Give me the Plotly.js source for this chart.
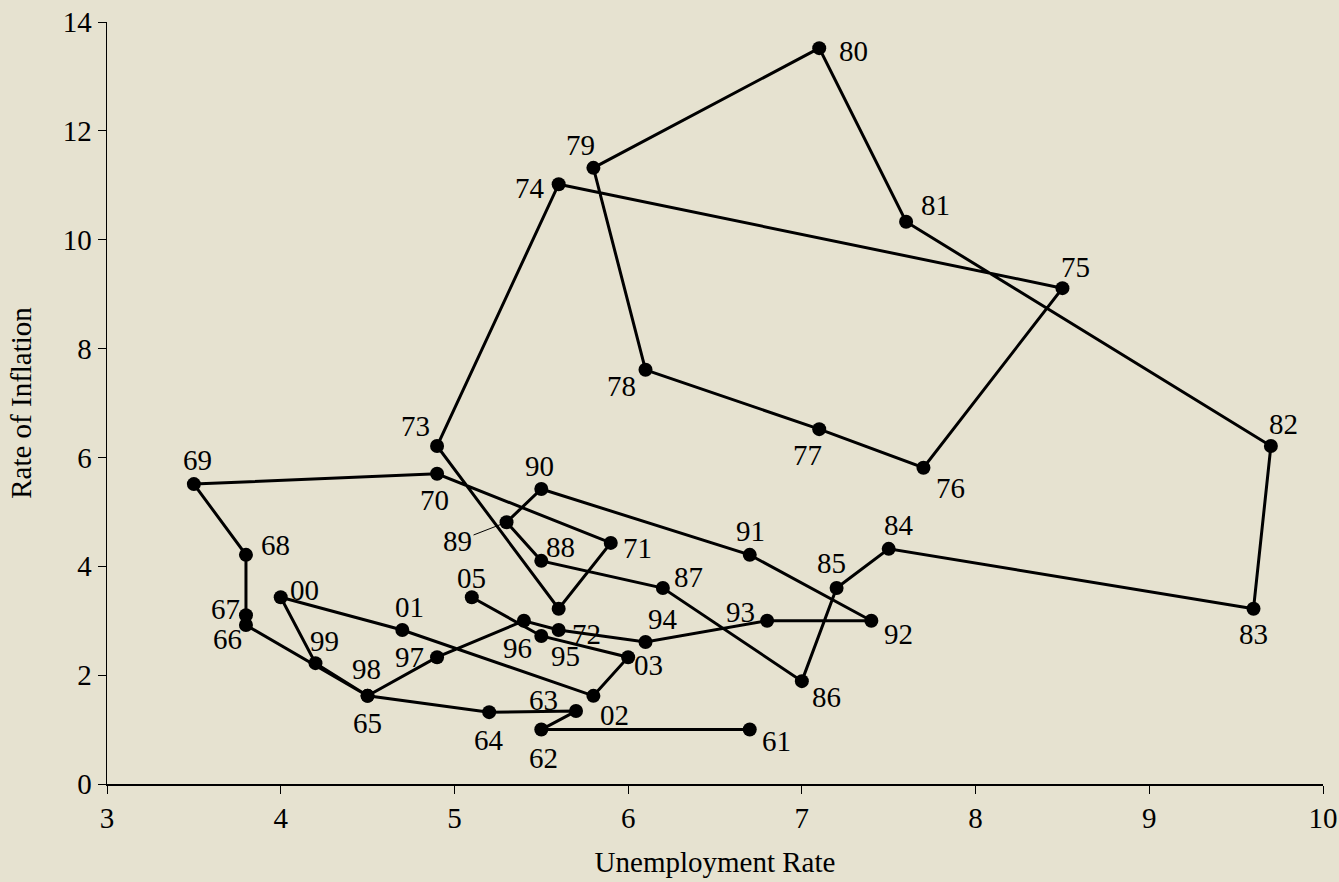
<!DOCTYPE html>
<html><head><meta charset="utf-8">
<script src="https://cdn.plot.ly/plotly-3.0.1.min.js"></script>
<style>body{margin:0;background:#e6e2d0}</style></head>
<body><div id="c" style="width:1339px;height:882px"></div>
<script>
const years=["61","62","63","64","65","66","67","68","69","70","71","72","73","74","75","76","77","78","79","80","81","82","83","84","85","86","87","88","89","90","91","92","93","94","95","96","97","98","99","00","01","02","03","04","05"];
const unemployment=[6.7,5.5,5.7,5.2,4.5,3.8,3.8,3.8,3.5,4.9,5.9,5.6,4.9,5.6,8.5,7.7,7.1,6.1,5.8,7.1,7.6,9.7,9.6,7.5,7.2,7.0,6.2,5.5,5.3,5.5,6.7,7.4,6.8,6.1,5.6,5.4,4.9,4.5,4.2,4.0,4.7,5.8,6.0,5.5,5.1];
const inflation=[1.0,1.0,1.34,1.32,1.62,2.92,3.1,4.21,5.51,5.7,4.43,3.22,6.21,11.02,9.11,5.81,6.52,7.61,11.32,13.52,10.33,6.21,3.22,4.32,3.6,1.89,3.6,4.1,4.81,5.42,4.21,3.0,3.0,2.61,2.83,3.0,2.33,1.62,2.22,3.43,2.83,1.62,2.33,2.72,3.43];
const labelDx=[27,2,-33,0,0,-18,-20,30,4,-3,27,28,-22,-29,13,27,-12,-24,-13,34,29,13,0,10,-5,25,26,19,-49,-2,1,27,-27,17,7,-6,-28,-1,9,24,7,21,20,null,0];
const labelDy=[11,28,-11,28,27,14,-6,-10,-24,26,5,25,-20,4,-21,20,26,16,-23,3,-17,-22,25,-24,-25,16,-11,-14,19,-23,-24,13,-9,-23,26,27,0,-27,-22,-7,-23,19,8,null,-19];
const ann=[];
const F={size:29,color:'#000',family:'Liberation Serif'};
years.forEach((y,i)=>{
  if(labelDx[i]===null) return;
  if(y==="89"){
    ann.push({x:unemployment[i],y:inflation[i],text:y,showarrow:true,arrowhead:0,arrowwidth:1,arrowcolor:'#000',ax:labelDx[i],ay:labelDy[i],standoff:6,font:F});
  } else {
    ann.push({x:unemployment[i],y:inflation[i],text:y,showarrow:false,xshift:labelDx[i],yshift:-labelDy[i],font:F});
  }
});
Plotly.newPlot('c',[{x:unemployment,y:inflation,mode:'lines+markers',line:{color:'#000',width:3},marker:{color:'#000',size:14}}],{
  width:1339,height:882,paper_bgcolor:'#e6e2d0',plot_bgcolor:'#e6e2d0',
  margin:{l:107,r:16,t:22,b:98},showlegend:false,
  font:{family:'Liberation Serif',color:'#000',size:29},
  xaxis:{range:[3,10],dtick:1,showgrid:false,zeroline:false,showline:true,linecolor:'#000',linewidth:1.5,ticks:'outside',ticklen:8,tickcolor:'#000',tickfont:{size:29,family:'Liberation Serif'},title:{text:'Unemployment Rate',font:{size:29,family:'Liberation Serif'},standoff:18}},
  yaxis:{range:[0,14],dtick:2,showgrid:false,zeroline:false,showline:true,linecolor:'#000',linewidth:1.5,ticks:'outside',ticklen:8,tickcolor:'#000',tickfont:{size:29,family:'Liberation Serif'},title:{text:'Rate of Inflation',font:{size:29,family:'Liberation Serif'},standoff:22}},
  annotations:ann
},{staticPlot:true});
</script></body></html>
